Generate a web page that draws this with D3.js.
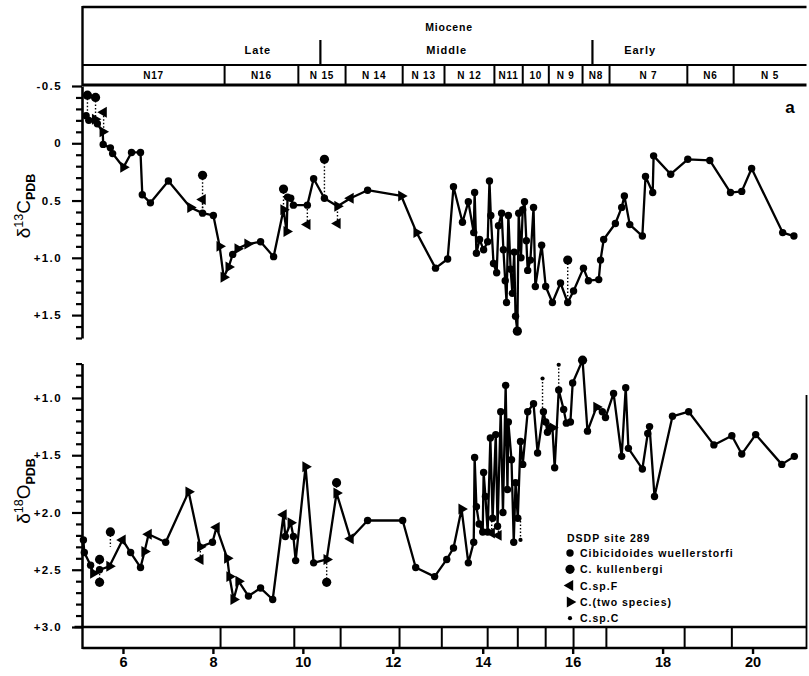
<!DOCTYPE html>
<html lang="en">
<head>
<meta charset="utf-8">
<title>DSDP site 289 - carbon and oxygen isotopes</title>
<script src="https://cdn.jsdelivr.net/npm/d3@7"></script>
<style>
  body { margin: 0; background: #fff; }
  text { font-family: "Liberation Sans", Arial, sans-serif; fill: #000; }
</style>
</head>
<body>
<script>

// ---- data (age in Ma, isotope value in per mil) ----
// symbols: w = C. wuellerstorfi, k = C. kullenbergi, f = C.sp.F, t = C.(two species), c = C.sp.C

var topAge = [5.18,5.24,5.38,5.43,5.55,5.56,5.72,5.77,6.01,6.19,
  6.39,6.43,6.61,7.01,7.50,7.77,8.01,8.15,8.24,8.35,
  8.44,8.55,8.77,9.06,9.35,9.57,9.64,9.66,9.73,9.79,
  10.10,10.24,10.48,10.77,11.06,11.44,12.19,12.53,12.95,13.22,
  13.35,13.55,13.68,13.80,13.82,13.86,13.93,14.02,14.11,14.15,
  14.18,14.24,14.31,14.35,14.42,14.46,14.50,14.53,14.57,14.62,
  14.66,14.70,14.73,14.77,14.80,14.85,14.89,14.93,14.97,15.00,
  15.06,15.13,15.17,15.31,15.40,15.55,15.73,15.89,16.02,16.24,
  16.35,16.58,16.62,16.69,16.95,17.09,17.15,17.27,17.55,17.62,
  17.78,17.80,18.18,18.56,19.05,19.51,19.76,19.98,20.67,20.92];
var topVal = [-0.24,-0.20,-0.21,-0.17,-0.10,0.01,0.04,0.09,0.21,0.08,
  0.08,0.45,0.52,0.33,0.56,0.61,0.63,0.90,1.17,1.08,
  0.97,0.92,0.88,0.86,0.99,0.58,0.77,0.47,0.48,0.54,
  0.54,0.31,0.48,0.55,0.48,0.41,0.46,0.78,1.09,1.01,
  0.38,0.69,0.51,0.78,0.43,0.96,0.84,0.93,0.86,0.33,
  0.63,1.05,1.13,0.72,0.61,0.93,1.20,1.39,0.63,1.10,
  1.31,0.95,1.51,1.64,0.61,1.00,0.58,0.51,0.85,1.11,
  1.02,0.56,1.25,0.89,1.25,1.39,1.22,1.39,1.29,1.09,
  1.20,1.19,1.02,0.84,0.70,0.56,0.46,0.71,0.81,0.29,
  0.43,0.11,0.27,0.14,0.15,0.43,0.42,0.22,0.78,0.81];
var topSym = ("wwtwtwwwtw" + "wwwwtwwttt" + "wttwwttwww" + "wwwtfwttww" + "wwwwwwwwww" +
  "wwwwwwwwww" + "wwwkwwwwww" + "wwwwwwwwww" + "wwwwwwwwww" + "wwwwwwwwww").split("");

// off-line samples joined to the curve by a dotted line
var topAltAge  = [5.21, 5.39, 5.57, 7.77, 7.77, 9.57, 10.10, 10.48, 10.77, 15.89];
var topAltVal  = [-0.42, -0.40, -0.27, 0.28, 0.49, 0.40, 0.71, 0.14, 0.70, 1.02];
var topAltBase = [-0.24, -0.21, -0.10, 0.61, 0.61, 0.58, 0.54, 0.48, 0.55, 1.39];
var topAltSym  = "kkfkfkfkfk".split("");

var botAge = [5.12,5.14,5.28,5.34,5.48,5.70,5.99,6.17,6.39,6.48,
  6.57,6.95,7.46,7.72,7.99,8.08,8.32,8.37,8.46,8.57,
  8.79,9.06,9.33,9.57,9.61,9.73,9.79,9.84,10.06,10.24,
  10.53,10.75,11.06,11.44,12.22,12.51,12.93,13.20,13.35,13.53,
  13.68,13.80,13.82,13.86,13.92,14.00,14.02,14.06,14.11,14.17,
  14.22,14.29,14.33,14.40,14.45,14.51,14.55,14.57,14.64,14.69,
  14.73,14.78,14.84,14.89,15.00,15.13,15.22,15.35,15.40,15.44,
  15.49,15.55,15.60,15.69,15.80,15.86,15.95,16.00,16.22,16.33,
  16.53,16.66,16.73,16.91,17.09,17.18,17.24,17.55,17.67,17.71,
  17.82,18.22,18.58,19.14,19.54,19.76,20.07,20.65,20.93];
var botVal = [2.24,2.35,2.46,2.53,2.50,2.47,2.24,2.35,2.48,2.34,
  2.19,2.26,1.82,2.30,2.26,2.13,2.40,2.56,2.76,2.60,
  2.73,2.66,2.76,2.02,2.21,2.09,2.21,2.42,1.60,2.44,
  2.41,1.83,2.23,2.07,2.07,2.48,2.56,2.41,2.31,1.97,
  2.44,2.26,1.52,1.95,2.10,2.17,1.65,1.86,2.17,1.35,
  2.05,1.32,2.12,1.12,2.00,0.89,1.80,1.21,1.54,2.26,
  1.74,2.05,1.38,1.58,1.12,1.05,1.48,1.12,1.21,1.30,
  1.26,1.26,1.61,0.93,1.10,1.22,1.21,0.87,0.67,1.29,
  1.08,1.12,1.17,0.96,1.51,0.91,1.44,1.62,1.31,1.25,
  1.86,1.16,1.12,1.41,1.33,1.49,1.32,1.58,1.51];
var botSym = ("wwwtwtfwwt" + "fwttwftttt" + "wwwfwtwwtw" + "ttfwwwwwwt" + "wwwwwwwwww" +
  "wwwwwwwwww" + "wwwwwwwwww" + "wtwwwwwwkw" + "twwwwwwwww" + "wwwwwwwww").split("");

var botAltAge  = [5.48, 5.48, 5.72, 7.72, 10.53, 10.75, 14.20, 14.35, 14.84, 15.33, 15.69];
var botAltVal  = [2.61, 2.41, 2.17, 2.41, 2.61, 1.74, 2.18, 2.20, 2.24, 0.83, 0.71];
var botAltBase = [2.50, 2.50, 2.30, 2.30, 2.41, 1.83, 2.05, 2.12, 2.05, 1.12, 0.93];
var botAltSym  = "kkkfkkffccc".split("");

// stratigraphy
var epochNames = ["Late", "Middle", "Early"];
var epochLabelAge = [9.0, 13.2, 17.5];
var epochBounds = [10.39, 16.44];
var zoneNames = ["N17", "N16", "N 15", "N 14", "N 13", "N 12", "N11", "10", "N 9", "N8", "N 7", "N6", "N 5"];
var zoneBounds = [8.26, 9.90, 10.95, 12.22, 13.15, 14.26, 14.89, 15.47, 16.22, 16.82, 18.55, 19.58];
var lowerBounds = [8.17, 9.81, 10.84, 12.15, 13.09, 14.11, 14.78, 15.40, 16.02, 16.75, 18.49, 19.54];

var ageTicks = [6, 8, 10, 12, 14, 16, 18, 20];
var topTickVals = [-0.5, 0, 0.5, 1.0, 1.5];
var topTickLabels = ["-0.5", "0", "0.5", "+1.0", "+1.5"];
var botTickVals = [1.0, 1.5, 2.0, 2.5, 3.0];
var botTickLabels = ["+1.0", "+1.5", "+2.0", "+2.5", "+3.0"];

var legendNames = ["Cibicidoides wuellerstorfi", "C. kullenbergi", "C.sp.F", "C.(two species)", "C.sp.C"];
var legendSyms = ["w", "k", "f", "t", "c"];

// ---- layout ----
var w = 809, h = 676;
var svg = d3.select("body").append("svg").attr("width", w).attr("height", h);

var x = d3.scaleLinear().domain([5.1, 21.2]).range([82.5, 806.5]);
var yTop = d3.scaleLinear().domain([-0.5, 1.7]).range([86, 338]);
var yBot = d3.scaleLinear().domain([0.7, 3.0]).range([363.6, 627]);

var tri = d3.symbol(d3.symbolTriangle, 52);

function drawMarker(g, px, py, s) {
  if (s == "f" || s == "t") {
    g.append("path").attr("d", tri())
      .attr("transform", "translate(" + px + "," + py + ") rotate(" + (s == "f" ? -90 : 90) + ")")
      .attr("fill", "#000");
  } else {
    var r = s == "k" ? 4.6 : (s == "c" ? 2.1 : 3.7);
    g.append("circle").attr("cx", px).attr("cy", py).attr("r", r).attr("fill", "#000");
  }
}

function drawSeries(y, ages, vals, syms, altAge, altVal, altBase, altSym) {
  var g = svg.append("g");
  // dotted joins first
  altAge.forEach(function(a, i) {
    g.append("line")
      .attr("x1", x(a)).attr("x2", x(a))
      .attr("y1", y(altVal[i])).attr("y2", y(altBase[i]))
      .attr("stroke", "#000").attr("stroke-width", 1.4)
      .attr("stroke-dasharray", "1.5,2");
  });
  var pts = ages.map(function(a, i) { return {a: a, v: vals[i], s: syms[i]}; });
  var line = d3.line().x(function(d) { return x(d.a); }).y(function(d) { return y(d.v); });
  g.append("path").datum(pts).attr("d", line)
    .attr("fill", "none").attr("stroke", "#000").attr("stroke-width", 2.3)
    .attr("stroke-linejoin", "round");
  pts.forEach(function(d) { drawMarker(g, x(d.a), y(d.v), d.s); });
  altAge.forEach(function(a, i) { drawMarker(g, x(a), y(altVal[i]), altSym[i]); });
}

function yAxis(scale, lo, hi, majors, labels) {
  var ticks = d3.range(Math.round(lo * 10), Math.round(hi * 10) + 1).map(function(d) { return d / 10; });
  function majorIdx(d) { return majors.findIndex(function(m) { return Math.abs(m - d) < 1e-6; }); }
  var ax = d3.axisLeft(scale).tickValues(ticks).tickSize(6).tickSizeOuter(0).tickPadding(14)
    .tickFormat(function(d) { var i = majorIdx(d); return i < 0 ? "" : labels[i]; });
  var g = svg.append("g").attr("transform", "translate(82,0)").call(ax);
  g.select(".domain").attr("stroke-width", 2.6);
  g.selectAll(".tick line").attr("stroke-width", 2.2)
    .attr("x2", function(d) { return majorIdx(d) < 0 ? -6 : -10; });
  g.selectAll(".tick text").attr("font-size", 11.5).attr("font-weight", "bold")
    .attr("letter-spacing", "1.4px")
    .style("font-family", "'Liberation Sans', Arial, sans-serif");
}

yAxis(yTop, -0.5, 1.7, topTickVals, topTickLabels);
yAxis(yBot, 0.7, 3.0, botTickVals, botTickLabels);

drawSeries(yTop, topAge, topVal, topSym, topAltAge, topAltVal, topAltBase, topAltSym);
drawSeries(yBot, botAge, botVal, botSym, botAltAge, botAltVal, botAltBase, botAltSym);

// ---- header with stratigraphy ----
var x0 = x.range()[0], x1 = x.range()[1];
var head = svg.append("g").attr("stroke", "#000");
head.append("line").attr("x1", x0).attr("x2", x1).attr("y1", 7).attr("y2", 7).attr("stroke-width", 2.4);
head.append("line").attr("x1", x0).attr("x2", x0).attr("y1", 6).attr("y2", 86).attr("stroke-width", 2.4);
head.append("line").attr("x1", x0).attr("x2", x1).attr("y1", 65).attr("y2", 65).attr("stroke-width", 1.8);
head.append("line").attr("x1", x0).attr("x2", x1).attr("y1", 85).attr("y2", 85).attr("stroke-width", 2.8);
head.selectAll("line.ep").data(epochBounds).enter().append("line")
  .attr("x1", function(d) { return x(d); }).attr("x2", function(d) { return x(d); })
  .attr("y1", 40).attr("y2", 65).attr("stroke-width", 2.2);
head.selectAll("line.zn").data(zoneBounds).enter().append("line")
  .attr("x1", function(d) { return x(d); }).attr("x2", function(d) { return x(d); })
  .attr("y1", 65).attr("y2", 85).attr("stroke-width", 2);

svg.append("text").attr("x", x(13.25)).attr("y", 31).attr("text-anchor", "middle")
  .attr("font-size", 10.5).attr("font-weight", "bold").attr("letter-spacing", "0.8px").text("Miocene");
svg.selectAll("text.epoch").data(epochNames).enter().append("text")
  .attr("x", function(d, i) { return x(epochLabelAge[i]); }).attr("y", 54)
  .attr("text-anchor", "middle").attr("font-size", 11).attr("font-weight", "bold")
  .attr("letter-spacing", "1px").text(function(d) { return d; });

var zoneEdges = [x.domain()[0]].concat(zoneBounds, [x.domain()[1]]);
svg.selectAll("text.zone").data(zoneNames).enter().append("text")
  .attr("x", function(d, i) { return (x(zoneEdges[i]) + x(zoneEdges[i + 1])) / 2; })
  .attr("y", 79).attr("text-anchor", "middle").attr("font-size", 10).attr("font-weight", "bold")
  .attr("letter-spacing", "0.8px").text(function(d) { return d; });

// ---- bottom zone boxes and age axis ----
var foot = svg.append("g").attr("stroke", "#000");
foot.append("line").attr("x1", x0 - 8).attr("x2", x1).attr("y1", 627).attr("y2", 627).attr("stroke-width", 2.6);
foot.append("line").attr("x1", x0).attr("x2", x1).attr("y1", 648).attr("y2", 648).attr("stroke-width", 2.4);
foot.append("line").attr("x1", x0).attr("x2", x0).attr("y1", 627).attr("y2", 649).attr("stroke-width", 2.4);
foot.append("line").attr("x1", x1).attr("x2", x1).attr("y1", 395).attr("y2", 649).attr("stroke-width", 1.8);
foot.selectAll("line.lb").data(lowerBounds).enter().append("line")
  .attr("x1", function(d) { return x(d); }).attr("x2", function(d) { return x(d); })
  .attr("y1", 627).attr("y2", 648).attr("stroke-width", 2);

var xa = d3.axisBottom(x).tickValues(ageTicks).tickSize(6).tickSizeOuter(0).tickPadding(3)
  .tickFormat(d3.format("d"));
var gx = svg.append("g").attr("transform", "translate(0,648)").call(xa);
gx.select(".domain").remove();
gx.selectAll(".tick line").attr("stroke-width", 2.4);
gx.selectAll(".tick text").attr("font-size", 14.5).attr("font-weight", "bold")
  .style("font-family", "'Liberation Sans', Arial, sans-serif");

// ---- axis titles ----
function yTitle(cx, cy, sup, main) {
  var t = svg.append("text").attr("transform", "translate(" + cx + "," + cy + ") rotate(-90)")
    .attr("text-anchor", "middle").attr("font-size", 19);
  t.append("tspan").text("\u03b4");
  t.append("tspan").attr("font-size", 12.5).attr("dy", -7).text(sup);
  t.append("tspan").attr("dy", 7).text(main);
  t.append("tspan").attr("font-size", 12.5).attr("font-weight", "bold").attr("dy", 5).text("PDB");
}
yTitle(30, 206, "13", "C");
yTitle(30, 491, "18", "O");

svg.append("text").attr("x", 790).attr("y", 113).attr("text-anchor", "middle")
  .attr("font-size", 17).attr("font-weight", "bold").text("a");

// ---- legend ----
var lg = svg.append("g").attr("transform", "translate(570,0)");
lg.append("text").attr("x", -3).attr("y", 542).attr("font-size", 10.5).attr("font-weight", "bold")
  .attr("letter-spacing", "1px").text("DSDP site 289");
legendNames.forEach(function(n, i) {
  var yy = 553 + i * 16.3;
  drawMarker(lg, 0, yy, legendSyms[i]);
  lg.append("text").attr("x", 10).attr("y", yy + 4).attr("font-size", 10.5).attr("font-weight", "bold")
    .attr("letter-spacing", "1px").text(n);
});

</script>
</body>
</html>
